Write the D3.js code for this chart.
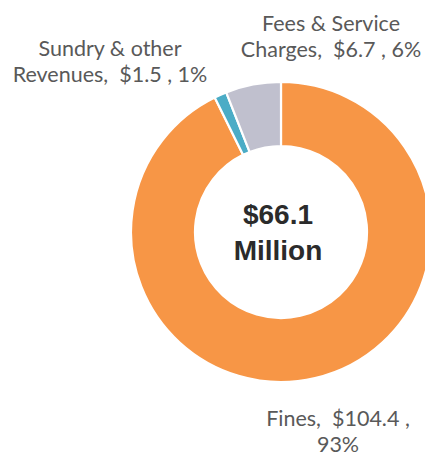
<!DOCTYPE html>
<html>
<head>
<meta charset="utf-8">
<script src="https://cdn.jsdelivr.net/npm/d3@7"></script>
<style>
  html, body { margin: 0; padding: 0; background: #fff; }
  svg { display: block; }
  text { white-space: pre; }
</style>
</head>
<body>
<script>
// ---- data ----
const categories = ["Fines", "Sundry & other Revenues", "Fees & Service Charges"];
const values = [104.4, 1.5, 6.7];
const percents = ["93%", "1%", "6%"];
const labelLines = [
  ["Fines,  $104.4 ,", "93%"],
  ["Sundry & other", "Revenues,  $1.5 , 1%"],
  ["Fees & Service", "Charges,  $6.7 , 6%"]
];
const centerLines = ["$66.1", "Million"];

// ---- layout ----
const W = 425, H = 456;
const cx = 281, cy = 232, rOuter = 150, rInner = 86;
const colors = d3.scaleOrdinal().domain(categories).range(["#F79646", "#4BACC6", "#C0C0CE"]);
const labelPos = [
  { x: 338, y: 425.5 },
  { x: 110, y: 55.5 },
  { x: 331, y: 30.5 }
];
const lineGap = 26.8;

const svg = d3.select("body").append("svg").attr("width", W).attr("height", H);
const g = svg.append("g").attr("transform", `translate(${cx},${cy})`);

const pie = d3.pie().sort(null).value(d => d.value);
const arcs = pie(categories.map((c, i) => ({ cat: c, value: values[i] })));
const arc = d3.arc().innerRadius(rInner).outerRadius(rOuter);

g.selectAll("path.slice").data(arcs).join("path")
  .attr("class", "slice")
  .attr("d", arc)
  .attr("fill", d => colors(d.data.cat))
  .attr("stroke", "#fff")
  .attr("stroke-width", 2.2)
  .attr("stroke-linejoin", "miter");

// center text
svg.append("g").selectAll("text").data(centerLines).join("text")
  .attr("x", 278)
  .attr("y", (d, i) => 224 + i * 36)
  .attr("text-anchor", "middle")
  .attr("font-family", "'Liberation Sans', Arial, sans-serif")
  .attr("font-weight", "bold")
  .attr("font-size", 28)
  .attr("fill", "#2b2b2b")
  .text(d => d);

// data labels
const lg = svg.append("g");
labelLines.forEach((lines, i) => {
  lg.selectAll(null).data(lines).join("text")
    .attr("x", labelPos[i].x)
    .attr("y", (d, j) => labelPos[i].y + j * lineGap)
    .attr("text-anchor", "middle")
    .attr("font-family", "Lato, 'Open Sans', sans-serif")
    .attr("font-size", 21.5)
    .attr("fill", "#595959")
    .text(d => d);
});
</script>
</body>
</html>
